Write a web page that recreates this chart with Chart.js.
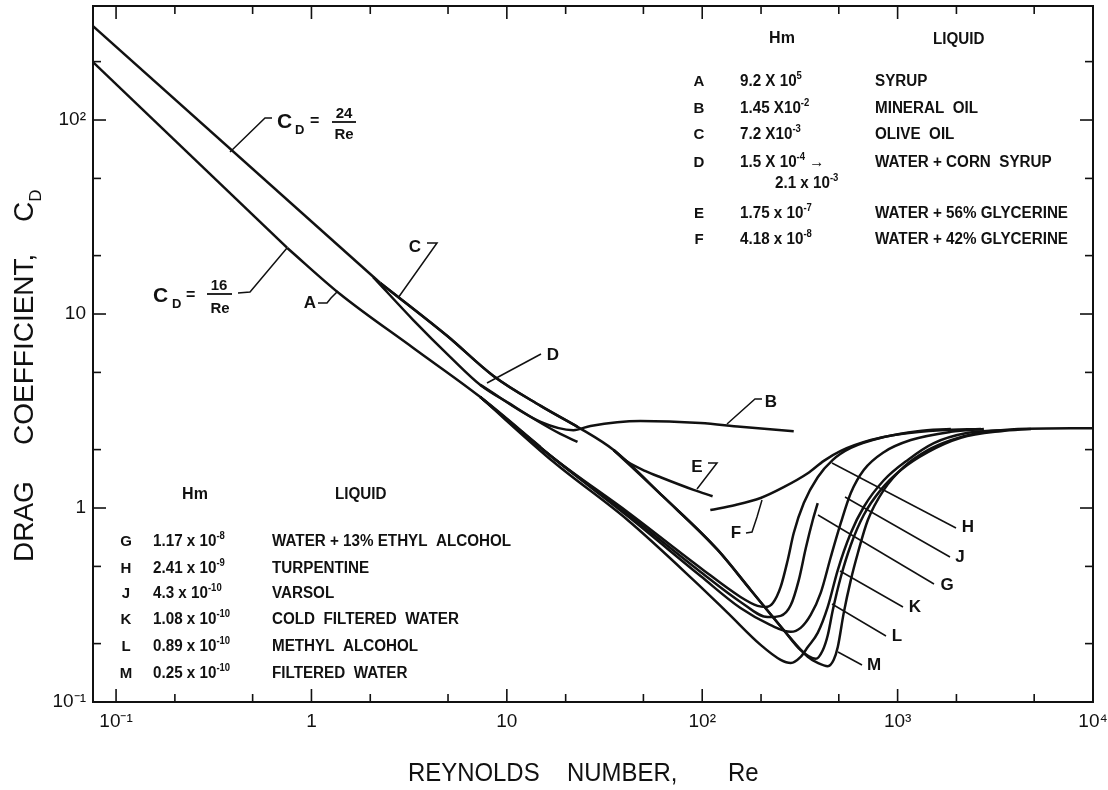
<!DOCTYPE html>
<html lang="en">
<head>
<meta charset="UTF-8">
<title>Drag coefficient of bubbles in liquids</title>
<script src="https://cdn.jsdelivr.net/npm/chart.js@4.4.1/dist/chart.umd.min.js"></script>
<style>
  body { margin: 0; background: #fff; overflow: hidden; }
  canvas { display: block; }
</style>
</head>
<body>
<canvas id="dragChart" width="1108" height="790"></canvas>
<script>
// axis ticks
const xMajor = [0.1, 1, 10, 100, 1000, 10000];
const xTickLabels = ['10⁻¹', '1', '10', '10²', '10³', '10⁴'];
const xMinor = [0.2, 0.5, 2, 5, 20, 50, 200, 500, 2000, 5000];
const yMajor = [0.1, 1, 10, 100];
const yTickLabels = ['10⁻¹', '1', '10', '10²'];
const yMinor = [0.2, 0.5, 2, 5, 20, 50, 200];

// curves, Reynolds number vs drag coefficient
const stokes24Re = [0.0762, 2.25];
const stokes24Cd = [305, 14.45];
const stokes16Re = [0.0762, 0.752];
const stokes16Cd = [199, 21.9];

const aRe = [0.752, 1.40, 3.32, 7.32, 14.9];
const aCd = [21.9, 12.68, 6.68, 3.73, 2.06];
const bRe = [7.32, 14.9, 21.9, 26.8, 48.3, 98, 157, 294];
const bCd = [4.31, 2.78, 2.52, 2.65, 2.81, 2.74, 2.62, 2.49];
const cRe = [2.25, 4.96, 8.54, 14.9, 23.0];
const cCd = [14.45, 7.70, 4.79, 3.36, 2.62];
const dRe = [2.07, 3.32, 5.14, 7.32, 10.4, 14.35, 18.8, 23.0];
const dCd = [15.5, 9.31, 6.00, 4.31, 3.44, 2.81, 2.41, 2.19];
const eRe = [35.2, 41.5, 51.3, 61.2, 90.3, 113];
const eCd = [1.99, 1.73, 1.55, 1.44, 1.24, 1.15];
const fRe = [110, 148, 199, 261, 347, 419, 512, 729, 1039, 1665, 2668];
const fCd = [0.977, 1.036, 1.126, 1.28, 1.51, 1.75, 1.97, 2.24, 2.41, 2.52, 2.555];

const gRe = [7.32, 17.3, 41.5, 98.1, 157, 216, 252, 284, 312, 339, 368, 390];
const gCd = [3.73, 1.81, 0.931, 0.468, 0.328, 0.274, 0.278, 0.316, 0.425, 0.622, 0.867, 1.06];
const hRe = [7.32, 17.3, 41.5, 98.1, 157, 192, 211, 230, 252, 274, 294, 331, 390, 466, 576, 850, 1269, 1873];
const hCd = [3.73, 1.81, 0.954, 0.491, 0.348, 0.313, 0.309, 0.324, 0.392, 0.540, 0.743, 1.06, 1.44, 1.77, 2.04, 2.32, 2.49, 2.555];
const jRe = [7.32, 17.3, 41.5, 98.1, 157, 224, 284, 319, 359, 404, 455, 512, 576, 671, 850, 1168, 1873, 2764];
const jCd = [3.73, 1.81, 0.909, 0.446, 0.305, 0.249, 0.230, 0.241, 0.281, 0.365, 0.559, 0.837, 1.195, 1.57, 1.94, 2.24, 2.47, 2.555];
const kRe = [7.32, 17.3, 41.5, 90.3, 135, 199, 252, 284, 319, 347, 390, 439, 494, 576, 671, 850, 1128, 1533, 2289, 3379];
const kCd = [3.73, 1.73, 0.867, 0.425, 0.288, 0.197, 0.165, 0.159, 0.171, 0.192, 0.227, 0.309, 0.479, 0.743, 1.012, 1.39, 1.77, 2.16, 2.44, 2.52];
const lRe = [35.2, 63.4, 120, 177, 261, 319, 381, 414, 439, 466, 512, 576, 671, 820, 1039, 1428, 2107, 3379, 4813];
const lCd = [1.99, 1.14, 0.608, 0.378, 0.235, 0.185, 0.167, 0.185, 0.221, 0.298, 0.441, 0.645, 0.920, 1.24, 1.57, 1.94, 2.30, 2.49, 2.555];
const mRe = [2.25, 4.96, 8.54, 14.9, 23.0, 35.2, 63.4, 120, 177, 261, 347, 390, 439, 471, 494, 530, 576, 626, 704, 850, 1076, 1428, 1873, 2576, 3379, 4129, 10000];
const mCd = [14.45, 7.70, 4.79, 3.36, 2.62, 1.99, 1.14, 0.608, 0.378, 0.235, 0.171, 0.159, 0.153, 0.165, 0.192, 0.288, 0.425, 0.586, 0.867, 1.24, 1.63, 1.99, 2.24, 2.44, 2.52, 2.555, 2.58];

const curves = [
    { name: 'CD = 24/Re', re: stokes24Re, cd: stokes24Cd, straight: true },
    { name: 'CD = 16/Re', re: stokes16Re, cd: stokes16Cd, straight: true },
    { name: 'A', re: aRe, cd: aCd },
    { name: 'B', re: bRe, cd: bCd },
    { name: 'C', re: cRe, cd: cCd },
    { name: 'D', re: dRe, cd: dCd },
    { name: 'E', re: eRe, cd: eCd },
    { name: 'F', re: fRe, cd: fCd },
    { name: 'G', re: gRe, cd: gCd },
    { name: 'H', re: hRe, cd: hCd },
    { name: 'J', re: jRe, cd: jCd },
    { name: 'K', re: kRe, cd: kCd },
    { name: 'L', re: lRe, cd: lCd },
    { name: 'M', re: mRe, cd: mCd }
];

// tables of Morton numbers
const topLetters = ['A', 'B', 'C', 'D', '', 'E', 'F'];
const topHm = ['9.2 X 10^{5}', '1.45 X10^{-2}', '7.2 X10^{-3}', '1.5 X 10^{-4} →', '2.1 x 10^{-3}', '1.75 x 10^{-7}', '4.18 x 10^{-8}'];
const topLiquids = ['SYRUP', 'MINERAL  OIL', 'OLIVE  OIL', 'WATER + CORN  SYRUP', '', 'WATER + 56% GLYCERINE', 'WATER + 42% GLYCERINE'];
const bottomLetters = ['G', 'H', 'J', 'K', 'L', 'M'];
const bottomHm = ['1.17 x 10^{-8}', '2.41 x 10^{-9}', '4.3 x 10^{-10}', '1.08 x 10^{-10}', '0.89 x 10^{-10}', '0.25 x 10^{-10}'];
const bottomLiquids = ['WATER + 13% ETHYL  ALCOHOL', 'TURPENTINE', 'VARSOL', 'COLD  FILTERED  WATER', 'METHYL  ALCOHOL', 'FILTERED  WATER'];

const FONT = '"Liberation Sans", Arial, Helvetica, sans-serif';
const INK = '#111';

// text with ^{sup} and _{sub} parts
function drawRich(ctx, str, x, y, size, opt = {}) {
    const weight = opt.weight || 'bold';
    const sx = opt.sx || 1;
    const parts = [];
    str.split(/(\^\{[^}]*\}|_\{[^}]*\})/).forEach(p => {
        if (!p) return;
        if (p.startsWith('^{')) parts.push({ t: p.slice(2, -1), dy: -size * 0.45, s: 0.62 });
        else if (p.startsWith('_{')) parts.push({ t: p.slice(2, -1), dy: size * 0.3, s: 0.62 });
        else parts.push({ t: p, dy: 0, s: 1 });
    });
    let w = 0;
    parts.forEach(p => {
        ctx.font = `${weight} ${Math.round(size * p.s)}px ${FONT}`;
        p.w = ctx.measureText(p.t).width;
        w += p.w;
    });
    ctx.save();
    ctx.translate(x, y);
    if (opt.rotate) ctx.rotate(opt.rotate);
    ctx.scale(sx, 1);
    ctx.fillStyle = INK;
    ctx.textAlign = 'left';
    ctx.textBaseline = 'alphabetic';
    let cx = opt.align === 'center' ? -w / 2 : (opt.align === 'right' ? -w : 0);
    parts.forEach(p => {
        ctx.font = `${weight} ${Math.round(size * p.s)}px ${FONT}`;
        ctx.fillText(p.t, cx, p.dy);
        cx += p.w;
    });
    ctx.restore();
}

function polyline(ctx, pts, width) {
    ctx.beginPath();
    ctx.lineWidth = width;
    ctx.moveTo(pts[0][0], pts[0][1]);
    pts.slice(1).forEach(p => ctx.lineTo(p[0], p[1]));
    ctx.stroke();
}

// pointer lines from the labels to the curves
const pointers = [
    [[272, 118], [265, 118], [230, 152]],
    [[238, 293], [250, 292], [287, 248]],
    [[318, 303], [327, 303], [331, 298], [338, 291]],
    [[427, 243], [437, 243], [398, 298]],
    [[541, 354], [487, 383]],
    [[762, 399], [755, 399], [727, 424]],
    [[708, 463], [717, 463], [697, 489]],
    [[746, 533], [752, 532], [757, 517], [762, 500]],
    [[956, 528], [832, 463]],
    [[950, 557], [845, 497]],
    [[934, 584], [818, 515]],
    [[903, 607], [840, 571]],
    [[886, 636], [832, 604]],
    [[862, 665], [838, 652]]
];
const curveLabels = [
    ['A', 310, 303], ['C', 415, 247], ['D', 553, 355], ['B', 771, 402], ['E', 697, 467], ['F', 736, 533],
    ['H', 968, 527], ['J', 960, 557], ['G', 947, 585], ['K', 915, 607], ['L', 897, 636], ['M', 874, 665]
];

const decorations = {
    id: 'decorations',
    afterDraw(chart) {
        const ctx = chart.ctx;
        const a = chart.chartArea;
        const xs = chart.scales.x, ys = chart.scales.y;
        ctx.save();
        ctx.strokeStyle = INK;
        ctx.lineCap = 'butt';

        // frame
        ctx.lineWidth = 2;
        ctx.strokeRect(a.left, a.top, a.right - a.left, a.bottom - a.top);

        // inward tick marks on all four sides
        const xt = xMajor.map(v => [v, 13]).concat(xMinor.map(v => [v, 8]));
        xt.forEach(([v, len]) => {
            const px = xs.getPixelForValue(v);
            polyline(ctx, [[px, a.bottom], [px, a.bottom - len]], 1.6);
            polyline(ctx, [[px, a.top], [px, a.top + len]], 1.6);
        });
        const yt = yMajor.map(v => [v, 13]).concat(yMinor.map(v => [v, 8]));
        yt.forEach(([v, len]) => {
            const py = ys.getPixelForValue(v);
            polyline(ctx, [[a.left, py], [a.left + len, py]], 1.6);
            polyline(ctx, [[a.right, py], [a.right - len, py]], 1.6);
        });

        // label pointers
        pointers.forEach(p => polyline(ctx, p, 1.5));

        // curve letters
        ctx.fillStyle = INK;
        ctx.textAlign = 'center';
        ctx.textBaseline = 'middle';
        ctx.font = `bold 17px ${FONT}`;
        curveLabels.forEach(([t, x, y]) => ctx.fillText(t, x, y));

        // C_D = 24/Re
        drawRich(ctx, 'C', 277, 128, 21, { weight: 'bold' });
        drawRich(ctx, 'D', 295, 134, 13, { weight: 'bold' });
        drawRich(ctx, '=', 310, 126, 16, { weight: 'bold' });
        drawRich(ctx, '24', 344, 118, 15, { weight: 'bold', align: 'center' });
        polyline(ctx, [[332, 122], [356, 122]], 1.8);
        drawRich(ctx, 'Re', 344, 139, 15, { weight: 'bold', align: 'center' });
        // C_D = 16/Re
        drawRich(ctx, 'C', 153, 302, 21, { weight: 'bold' });
        drawRich(ctx, 'D', 172, 308, 13, { weight: 'bold' });
        drawRich(ctx, '=', 186, 300, 16, { weight: 'bold' });
        drawRich(ctx, '16', 219, 290, 15, { weight: 'bold', align: 'center' });
        polyline(ctx, [[207, 294], [232, 294]], 1.8);
        drawRich(ctx, 'Re', 220, 313, 15, { weight: 'bold', align: 'center' });

        // top right table
        const tOpt = { weight: 'bold', sx: 0.95 };
        drawRich(ctx, 'Hm', 782, 43, 16, { weight: 'bold', align: 'center' });
        drawRich(ctx, 'LIQUID', 933, 44, 16, tOpt);
        const topBase = [86, 113, 139, 167, 188, 218, 244];
        topBase.forEach((by, i) => {
            if (topLetters[i]) drawRich(ctx, topLetters[i], 699, by, 15, { weight: 'bold', align: 'center' });
            drawRich(ctx, topHm[i], topLetters[i] ? 740 : 775, by, 16, tOpt);
            if (topLiquids[i]) drawRich(ctx, topLiquids[i], 875, by, 16, tOpt);
        });

        // bottom left table
        drawRich(ctx, 'Hm', 195, 499, 16, { weight: 'bold', align: 'center' });
        drawRich(ctx, 'LIQUID', 335, 499, 16, tOpt);
        const botBase = [546, 573, 598, 624, 651, 678];
        botBase.forEach((by, i) => {
            drawRich(ctx, bottomLetters[i], 126, by, 15, { weight: 'bold', align: 'center' });
            drawRich(ctx, bottomHm[i], 153, by, 16, tOpt);
            drawRich(ctx, bottomLiquids[i], 272, by, 16, tOpt);
        });

        // axis titles
        const ax = { weight: 'normal', sx: 0.92 };
        drawRich(ctx, 'REYNOLDS', 408, 781, 26, ax);
        drawRich(ctx, 'NUMBER,', 567, 781, 26, ax);
        drawRich(ctx, 'Re', 728, 781, 26, ax);
        const ay = { weight: 'normal', rotate: -Math.PI / 2 };
        drawRich(ctx, 'DRAG', 33, 562, 28, ay);
        drawRich(ctx, 'COEFFICIENT,', 33, 445, 28, ay);
        drawRich(ctx, 'C_{D}', 33, 222, 28, ay);
        ctx.restore();
    }
};

const ctx = document.getElementById('dragChart').getContext('2d');
const dragChart = new Chart(ctx, {
    type: 'line',
    data: {
        datasets: curves.map(c => ({
            label: c.name,
            data: c.re.map((r, i) => ({ x: r, y: c.cd[i] })),
            borderColor: INK,
            borderWidth: 2.5,
            pointRadius: 0,
            fill: false,
            cubicInterpolationMode: c.straight ? 'default' : 'monotone',
            tension: 0
        }))
    },
    options: {
        responsive: false,
        animation: false,
        layout: { padding: { top: 6, right: 15, left: 0, bottom: 0 } },
        scales: {
            x: {
                type: 'logarithmic',
                min: 0.0762,
                max: 10000,
                afterBuildTicks: s => { s.ticks = xMajor.map(v => ({ value: v })); },
                afterFit: s => { s.height = 88; s.paddingLeft = 0; s.paddingRight = 0; },
                grid: { display: false, drawTicks: false },
                border: { display: false },
                ticks: {
                    callback: (v, i) => xTickLabels[i],
                    autoSkip: false,
                    maxRotation: 0,
                    padding: 8,
                    color: INK,
                    font: { family: 'Liberation Sans', size: 19 }
                }
            },
            y: {
                type: 'logarithmic',
                min: 0.1,
                max: 387,
                afterBuildTicks: s => { s.ticks = yMajor.map(v => ({ value: v })); },
                afterFit: s => { s.width = 93; s.paddingTop = 0; s.paddingBottom = 0; },
                grid: { display: false, drawTicks: false },
                border: { display: false },
                ticks: {
                    callback: (v, i) => yTickLabels[i],
                    autoSkip: false,
                    padding: 7,
                    color: INK,
                    font: { family: 'Liberation Sans', size: 19 }
                }
            }
        },
        plugins: {
            legend: { display: false },
            tooltip: { enabled: false }
        }
    },
    plugins: [decorations]
});
</script>
</body>
</html>
